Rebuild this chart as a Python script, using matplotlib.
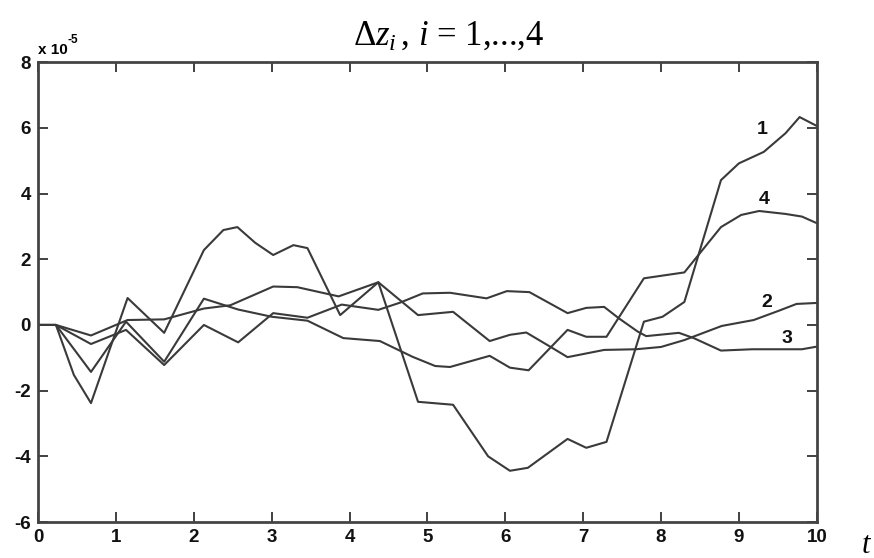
import matplotlib
matplotlib.use('Agg')
import matplotlib.pyplot as plt

# traced curves, values in units of 1e-5
t1 = [0, 0.23, 0.46, 0.68, 1.15, 1.62, 2.13, 2.38, 2.56, 2.79, 3.02, 3.28, 3.46, 3.88, 4.37,
      4.88, 5.33, 5.78, 6.06, 6.29, 6.8, 7.04, 7.3, 7.78, 8.02, 8.3, 8.77, 9.0, 9.32, 9.6, 9.78, 10.0]
z1 = [0, 0, -1.52, -2.38, 0.82, -0.24, 2.28, 2.89, 2.98, 2.5, 2.13, 2.43, 2.34, 0.3, 1.3,
      -2.34, -2.43, -4.0, -4.44, -4.35, -3.47, -3.74, -3.56, 0.1, 0.25, 0.7, 4.41, 4.92, 5.27, 5.84, 6.33, 6.06]

t2 = [0, 0.23, 0.68, 1.15, 1.62, 2.13, 2.47, 3.02, 3.33, 3.86, 4.37, 4.88, 5.33, 5.8, 6.06,
      6.27, 6.59, 6.8, 7.27, 7.68, 8.0, 8.3, 8.78, 9.19, 9.51, 9.74, 10.0]
z2 = [0, 0, -0.32, 0.15, 0.17, 0.5, 0.6, 1.17, 1.15, 0.87, 1.3, 0.3, 0.4, -0.49, -0.3,
      -0.23, -0.68, -0.98, -0.76, -0.74, -0.67, -0.46, -0.03, 0.15, 0.43, 0.64, 0.67]

t3 = [0, 0.23, 0.68, 1.13, 1.62, 2.13, 2.57, 3.02, 3.46, 3.9, 4.37, 4.65, 4.94, 5.29, 5.76,
      6.02, 6.31, 6.8, 7.04, 7.27, 7.46, 7.7, 7.81, 8.23, 8.42, 8.77, 9.17, 9.81, 10.0]
z3 = [0, 0, -0.58, -0.15, -1.22, 0, -0.53, 0.36, 0.22, 0.62, 0.46, 0.68, 0.96, 0.98, 0.81,
      1.03, 1.0, 0.36, 0.52, 0.55, 0.2, -0.2, -0.34, -0.24, -0.4, -0.78, -0.74, -0.74, -0.66]

t4 = [0, 0.23, 0.68, 1.13, 1.62, 2.13, 2.57, 3.0, 3.46, 3.92, 4.39, 4.81, 5.1, 5.29, 5.8,
      6.06, 6.3, 6.8, 7.04, 7.3, 7.78, 8.3, 8.46, 8.77, 9.03, 9.26, 9.6, 9.81, 10.0]
z4 = [0, 0, -1.43, 0.1, -1.12, 0.8, 0.47, 0.25, 0.13, -0.4, -0.49, -0.97, -1.25, -1.28, -0.94,
      -1.3, -1.38, -0.15, -0.36, -0.36, 1.42, 1.6, 2.07, 2.98, 3.35, 3.47, 3.38, 3.3, 3.1]

curve_names = ['1', '2', '3', '4']
name_pos = [(9.3, 5.96), (9.36, 0.67), (9.62, -0.4), (9.32, 3.83)]

xticks = list(range(0, 11))
yticks = [-6, -4, -2, 0, 2, 4, 6, 8]

plt.rcParams['mathtext.fontset'] = 'custom'
plt.rcParams['mathtext.rm'] = 'Liberation Serif'
plt.rcParams['mathtext.it'] = 'Liberation Serif:italic'

sans = ['Liberation Sans', 'DejaVu Sans']
line_col = '#3a3a3a'

fig = plt.figure(figsize=(8.74, 5.58), dpi=100)
ax = fig.add_axes([0.0435, 0.0645, 0.891, 0.824])

for t, z in [(t1, z1), (t2, z2), (t3, z3), (t4, z4)]:
    ax.plot(t, z, color=line_col, lw=1.5)

for name, (px, py) in zip(curve_names, name_pos):
    ax.text(px, py, name, fontsize=14, fontweight='heavy', family=sans,
            ha='center', va='center', color='#111111')

ax.set_xlim(0, 10)
ax.set_ylim(-6, 8)
ax.set_xticks(xticks)
ax.set_yticks(yticks)
ax.set_xticklabels([str(v) for v in xticks], fontweight='bold', family=sans, fontsize=13.5)
ax.set_yticklabels([str(v) for v in yticks], fontweight='bold', family=sans, fontsize=13.5)
ax.tick_params(direction='in', length=7, width=1.3, colors='#333333', labelcolor='#111111',
               top=True, right=True, pad=5)
for s in ax.spines.values():
    s.set_linewidth(2)
    s.set_color('#444444')

# scale factor above the y axis
ax.text(0.0, 1.012, 'x 10', transform=ax.transAxes, fontsize=11,
        fontweight='bold', family=sans, ha='left', va='bottom')
ax.text(0.038, 1.035, '-5', transform=ax.transAxes, fontsize=8.5,
        fontweight='bold', family=sans, ha='left', va='bottom')

fig.text(0.513, 0.935, r'$\Delta z_{i}\,$, $i$ = 1,...,4', fontsize=25,
         family='Liberation Serif', ha='center', va='center')
fig.text(0.998, 0.025, r'$t$', fontsize=22, ha='right', va='center')

fig.savefig('out.png', dpi=100)
